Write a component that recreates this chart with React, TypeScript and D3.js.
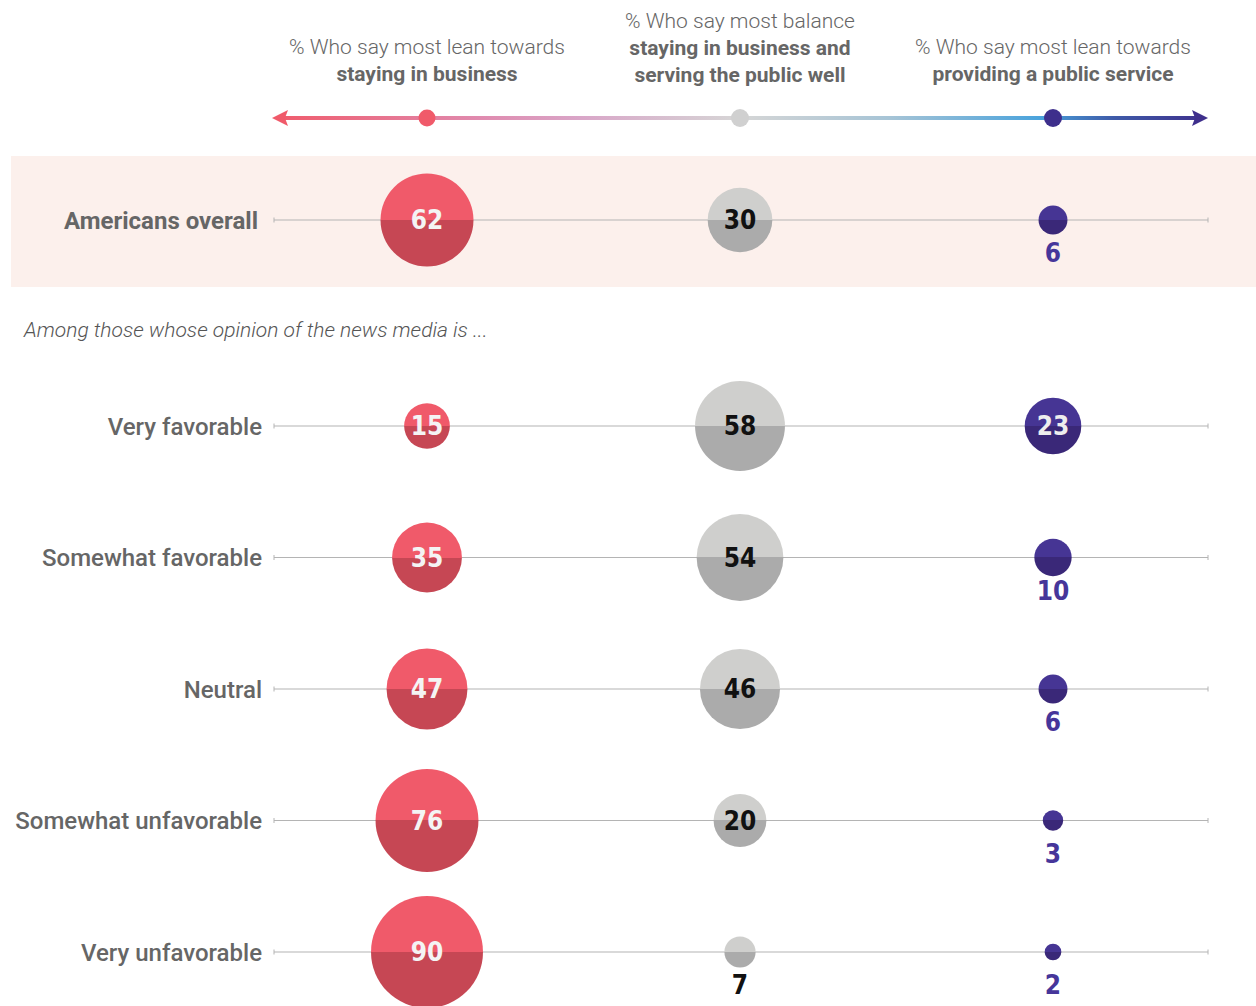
import React from "react";
import * as d3 from "d3";

const groups = ["Americans overall", "Very favorable", "Somewhat favorable", "Neutral", "Somewhat unfavorable", "Very unfavorable"];
const business = [62, 15, 35, 47, 76, 90];
const balance = [30, 58, 54, 46, 20, 7];
const publicService = [6, 23, 10, 6, 3, 2];
const columns = ["business", "balance", "public"];
const headerNormal = ["% Who say most lean towards", "% Who say most balance", "% Who say most lean towards"];
const headerBold = [["staying in business"], ["staying in business and", "serving the public well"], ["providing a public service"]];
const subtitle = "Among those whose opinion of the news media is ...";

const W = 1256, H = 1006;
const FONT = "Roboto, 'Noto Sans', sans-serif";
const NUMFONT = "'Liberation Sans Narrow', 'DejaVu Sans Condensed', Roboto, sans-serif";

const palettes = [
  { top: "#F05A6A", bottom: "#C64754", text: "#f4f4f4", outside: "#C64754" },
  { top: "#CFCFCD", bottom: "#ABABAB", text: "#111", outside: "#111" },
  { top: "#463594", bottom: "#3A2878", text: "#eeeeee", outside: "#46369A" },
];

export default function App() {
  const x = d3.scalePoint<string>().domain(columns).range([427, 1053]);
  const yRows = d3.scalePoint<string>().domain(groups.slice(1)).range([426, 952]);
  const y = (g: string, i: number) => (i === 0 ? 220 : (yRows(g) as number));
  const r = d3.scaleSqrt().domain([0, 90]).range([0, 56]);
  const series = [business, balance, publicService];
  const lineX0 = 274, lineX1 = 1208;

  return (
    <svg width={W} height={H} style={{ position: "absolute", left: 0, top: 0 }} fontFamily={FONT}>
      <defs>
        <linearGradient id="axisGrad" x1={272} x2={1208} y1={0} y2={0} gradientUnits="userSpaceOnUse">
          <stop offset="0" stopColor="#F05A6A" />
          <stop offset="0.22" stopColor="#E08AAE" />
          <stop offset="0.33" stopColor="#D9A6C8" />
          <stop offset="0.5" stopColor="#D6D6D6" />
          <stop offset="0.66" stopColor="#A6C4D6" />
          <stop offset="0.82" stopColor="#4AA3DC" />
          <stop offset="0.9" stopColor="#3E5AA8" />
          <stop offset="1" stopColor="#3E2F8C" />
        </linearGradient>
        {palettes.map((p, i) => (
          <linearGradient key={i} id={`fill${i}`} x1="0" x2="0" y1="0" y2="1">
            <stop offset="0.5" stopColor={p.top} />
            <stop offset="0.5" stopColor={p.bottom} />
          </linearGradient>
        ))}
      </defs>
      <rect x={0} y={0} width={W} height={H} fill="#fff" />

      {/* header */}
      {columns.map((c, i) => {
        const cx = x(c) as number;
        const lines = [headerNormal[i], ...headerBold[i]];
        const startY = lines.length === 3 ? 28 : 54;
        return (
          <text key={c} textAnchor="middle" fontSize={21} fill="#666">
            {lines.map((l, j) => (
              <tspan key={j} x={cx} y={startY + j * 27} fontWeight={j === 0 ? 300 : 700}>
                {l}
              </tspan>
            ))}
          </text>
        );
      })}

      {/* gradient axis */}
      <line x1={284} x2={1196} y1={118} y2={118} stroke="url(#axisGrad)" strokeWidth={4} />
      <path d="M272,118 L288,110 L285,118 L288,126 Z" fill="#F05A6A" />
      <path d="M1208,118 L1192,110 L1195,118 L1192,126 Z" fill="#3E2F8C" />
      <circle cx={x("business")} cy={118} r={8.5} fill="#F05A6A" />
      <circle cx={x("balance")} cy={118} r={9} fill="#D0D0D0" />
      <circle cx={x("public")} cy={118} r={9} fill="#3E2F8C" />

      {/* highlight band */}
      <rect x={11} y={156} width={W - 11} height={131} fill="#FCF0EC" />

      <text x={24} y={337} fontSize={21} fontStyle="italic" fontWeight={300} fill="#555">
        {subtitle}
      </text>

      {groups.map((g, i) => {
        const cy = y(g, i);
        return (
          <g key={g}>
            <line x1={lineX0} x2={lineX1} y1={cy} y2={cy} stroke="#B4B4B4" strokeWidth={1.2} />
            <line x1={lineX0} x2={lineX0} y1={cy - 2.5} y2={cy + 2.5} stroke="#B4B4B4" strokeWidth={1} />
            <line x1={lineX1} x2={lineX1} y1={cy - 2.5} y2={cy + 2.5} stroke="#B4B4B4" strokeWidth={1} />
            <text x={i === 0 ? 258 : 262} y={cy} dy="0.36em" textAnchor="end" fontSize={24} fontWeight={i === 0 ? 700 : 500} fill="#666">
              {g}
            </text>
            {series.map((s, k) => {
              const v = s[i];
              const cx = x(columns[k]) as number;
              const rr = r(v);
              const inside = v > 12;
              return (
                <g key={k}>
                  <circle cx={cx} cy={cy} r={rr} fill={`url(#fill${k})`} />
                  <text
                    x={cx}
                    y={inside ? cy : cy + 33}
                    dy="0.36em"
                    textAnchor="middle"
                    fontFamily={NUMFONT}
                    fontWeight={700}
                    fontSize={26}
                    fill={inside ? palettes[k].text : palettes[k].outside}
                  >
                    {v}
                  </text>
                </g>
              );
            })}
          </g>
        );
      })}
    </svg>
  );
}
